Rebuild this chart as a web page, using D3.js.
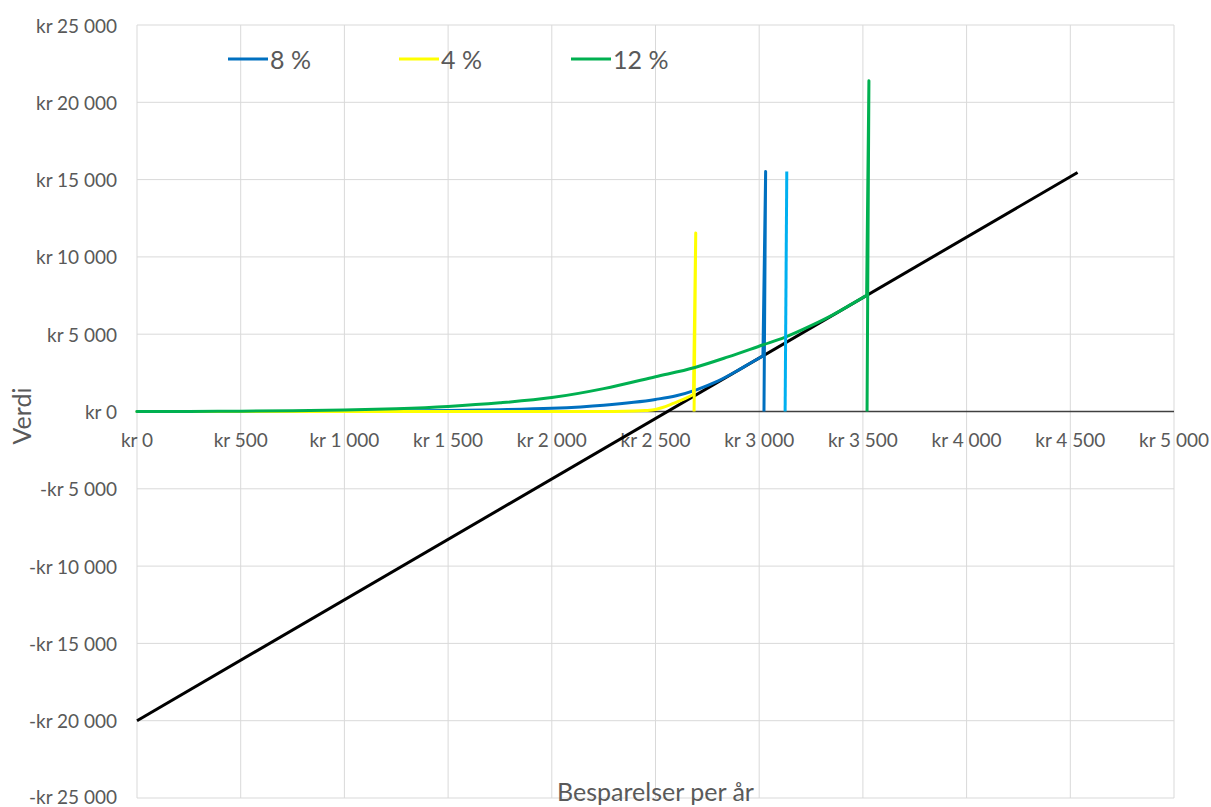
<!DOCTYPE html>
<html>
<head>
<meta charset="utf-8">
<script src="https://cdn.jsdelivr.net/npm/d3@7"></script>
<style>
  html, body { margin: 0; padding: 0; background: #fff; }
  svg { display: block; }
  text { font-family: Lato, "Open Sans", sans-serif; fill: #595959; }
</style>
</head>
<body>
<svg id="chart" width="1211" height="807"></svg>
<script>
// Savings per year (kr) on x, value (kr) on y.
const xTicks = [0, 500, 1000, 1500, 2000, 2500, 3000, 3500, 4000, 4500, 5000];
const yTicks = [-25000, -20000, -15000, -10000, -5000, 0, 5000, 10000, 15000, 20000, 25000];

// Break-even line
const breakEven = [[0, -20000], [4535, 15460]];

// 8 % curve and its jump
const rate8Curve = [[0, 0], [500, 3], [1000, 15], [1500, 70], [1750, 120], [2000, 210], [2250, 410],
  [2500, 780], [2600, 1020], [2700, 1420], [2800, 1960], [2890, 2600], [2950, 3070], [3018, 3600]];
const rate8Jump = [[3031, 15520], [3023, 0]];

// 4 % curve and its jump
const rate4Curve = [[0, 0], [1000, 0], [2000, 2], [2300, 5], [2400, 25], [2450, 60], [2500, 130],
  [2530, 240], [2585, 520], [2650, 880], [2683, 1100]];
const rate4Jump = [[2694, 11540], [2686, 0]];

// 12 % curve and its jump
const rate12Curve = [[0, 0], [250, 5], [500, 20], [750, 45], [1000, 95], [1250, 185], [1500, 330],
  [1750, 560], [2000, 900], [2250, 1480], [2500, 2250], [2690, 2850], [2850, 3530], [3020, 4320],
  [3120, 4780], [3250, 5550], [3355, 6250], [3450, 6980], [3518, 7510]];
const rate12Jump = [[3529, 21400], [3520, 0]];

// Extra marker line
const markerLine = [[3125, 0], [3133, 15520]];

const legendItems = [
  { label: "8 %", color: "#0070C0" },
  { label: "4 %", color: "#FFFF00" },
  { label: "12 %", color: "#00B050" }
];

const svg = d3.select("#chart");
const margin = { left: 137, right: 1174, top: 25, bottom: 798 };

const x = d3.scaleLinear().domain([0, 5000]).range([margin.left, margin.right]);
const y = d3.scaleLinear().domain([-25000, 25000]).range([margin.bottom, margin.top]);

const locale = d3.formatLocale({ decimal: ",", thousands: " ", grouping: [3], currency: ["kr ", ""], minus: "-" });
const fmt = locale.format("$,.0f");

// Gridlines
const grid = svg.append("g");
grid.selectAll("line.v").data(xTicks).join("line")
  .attr("x1", d => x(d)).attr("x2", d => x(d))
  .attr("y1", y(25000)).attr("y2", y(-25000))
  .attr("stroke", "#d9d9d9").attr("stroke-width", 1);
grid.selectAll("line.h").data(yTicks).join("line")
  .attr("x1", x(0)).attr("x2", x(5000))
  .attr("y1", d => y(d)).attr("y2", d => y(d))
  .attr("stroke", "#d9d9d9").attr("stroke-width", 1);

// Zero axis line
svg.append("line")
  .attr("x1", x(0)).attr("x2", x(5000))
  .attr("y1", y(0)).attr("y2", y(0))
  .attr("stroke", "#404040").attr("stroke-width", 1.5);

// Y tick labels
svg.append("g").selectAll("text").data(yTicks).join("text")
  .attr("x", 117).attr("y", d => Math.min(y(d), 796))
  .attr("text-anchor", "end").attr("dominant-baseline", "central")
  .style("font-size", "19px")
  .text(d => fmt(d));

// X tick labels
svg.append("g").selectAll("text").data(xTicks).join("text")
  .attr("x", d => x(d)).attr("y", y(0) + 28)
  .attr("text-anchor", "middle").attr("dominant-baseline", "central")
  .style("font-size", "19px")
  .text(d => fmt(d));

const line = d3.line().x(d => x(d[0])).y(d => y(d[1]));
const smooth = d3.line().x(d => x(d[0])).y(d => y(d[1])).curve(d3.curveMonotoneX);

function drawSeries(curve, jump, color) {
  svg.append("path").datum(curve).attr("d", smooth)
    .attr("fill", "none").attr("stroke", color).attr("stroke-width", 3)
    .attr("stroke-linejoin", "round").attr("stroke-linecap", "round");
  svg.append("path").datum([curve[curve.length - 1], ...jump]).attr("d", line)
    .attr("fill", "none").attr("stroke", color).attr("stroke-width", 3)
    .attr("stroke-linejoin", "round");
}

svg.append("path").datum(breakEven).attr("d", line)
  .attr("fill", "none").attr("stroke", "#000").attr("stroke-width", 3);

drawSeries(rate8Curve, rate8Jump, "#0070C0");
drawSeries(rate4Curve, rate4Jump, "#FFFF00");
drawSeries(rate12Curve, rate12Jump, "#00B050");

svg.append("path").datum(markerLine).attr("d", line)
  .attr("fill", "none").attr("stroke", "#00B0F0").attr("stroke-width", 3);

// Legend
const legendX = [228, 399, 571];
const legend = svg.append("g");
legendItems.forEach((d, i) => {
  legend.append("line")
    .attr("x1", legendX[i]).attr("x2", legendX[i] + 40)
    .attr("y1", 59).attr("y2", 59)
    .attr("stroke", d.color).attr("stroke-width", 3);
  legend.append("text")
    .attr("x", legendX[i] + 42).attr("y", 59)
    .attr("dominant-baseline", "central")
    .style("font-size", "25px")
    .text(d.label);
});

// Axis titles
svg.append("text")
  .attr("transform", "translate(21,416) rotate(-90)")
  .attr("text-anchor", "middle").attr("dominant-baseline", "central")
  .style("font-size", "25px")
  .text("Verdi");

svg.append("text")
  .attr("x", (margin.left + margin.right) / 2).attr("y", 801)
  .attr("text-anchor", "middle")
  .style("font-size", "25px")
  .text("Besparelser per år");
</script>
</body>
</html>
